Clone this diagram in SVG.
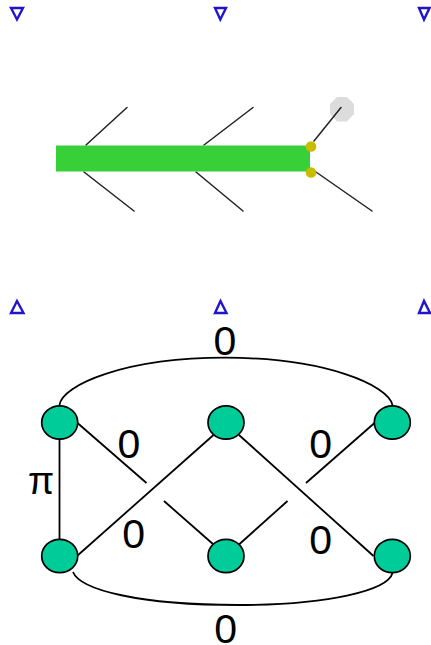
<svg xmlns="http://www.w3.org/2000/svg" width="431" height="645" viewBox="0 0 431 645">
<style>
.tri{fill:none;stroke:#2015cc;stroke-width:2.4}
.thin{fill:none;stroke:#222;stroke-width:1.5;stroke-linecap:round}
.edge{fill:none;stroke:#000;stroke-width:1.8}
.node{fill:#00cc99;stroke:#000;stroke-width:1.7}
.lbl{font-family:"Liberation Sans",Arial,sans-serif;font-size:41px;fill:#000;text-anchor:middle}
.pi{font-size:38px}
.dot{fill:#c8bc00}
</style>
<rect width="431" height="645" fill="#fff"/>
<g id="markers-top">
<polygon class="tri" points="11,8 23,8 17,19.500"/>
<polygon class="tri" points="215,8 226,8 220.300,19.500"/>
<polygon class="tri" points="419,8 429.500,8 424,19.500"/>
</g>
<g id="markers-bottom">
<polygon class="tri" points="11,313 23.500,313 17,301"/>
<polygon class="tri" points="215,313 226.500,313 220.500,301"/>
<polygon class="tri" points="419,313 430,313 424,301"/>
</g>
<g id="top-figure">
<polygon points="337,97 347,97 354,104 354,114 347,121.500 337,121.500 330,114 330,104" fill="#dcdcdc"/>
<g>
<line class="thin" x1="86" y1="145" x2="127" y2="107.500"/>
<line class="thin" x1="204" y1="145" x2="253" y2="107.500"/>
<line class="thin" x1="314" y1="141" x2="341" y2="107.500"/>
<line class="thin" x1="84" y1="172" x2="134" y2="211"/>
<line class="thin" x1="196" y1="172" x2="243" y2="211"/>
<line class="thin" x1="316" y1="172" x2="372" y2="211"/>
</g>
<rect x="56" y="145.500" width="254" height="26" fill="#38d038"/>
<circle class="dot" cx="311" cy="146.500" r="5.300"/>
<circle class="dot" cx="311" cy="172.500" r="5.300"/>
</g>
<g id="connectors">
<path class="edge" d="M59.500,405 C62,385 125,357.700 225,357.700 C325,357.700 388,385 392.500,405"/>
<path class="edge" d="M73,572 C80,590 140,605 238,605 C330,605 388,590 392.500,573"/>
<line class="edge" x1="59.500" y1="439" x2="59.500" y2="540"/>
<line class="edge" x1="77.500" y1="423" x2="146.500" y2="483"/>
<line class="edge" x1="164" y1="501" x2="213.500" y2="544.500"/>
<line class="edge" x1="77" y1="556" x2="213.500" y2="435"/>
<line class="edge" x1="239" y1="544.500" x2="287.500" y2="501"/>
<line class="edge" x1="239" y1="435" x2="373.500" y2="556"/>
<line class="edge" x1="306" y1="483" x2="374.500" y2="423"/>
</g>
<g id="n1"><ellipse class="node" cx="59.700" cy="422.500" rx="18" ry="16.700"/></g>
<g id="n2"><ellipse class="node" cx="226" cy="422.500" rx="18" ry="16.700"/></g>
<g id="n3"><ellipse class="node" cx="392.300" cy="422.500" rx="18" ry="16.700"/></g>
<g id="n4"><ellipse class="node" cx="59.700" cy="556" rx="18" ry="16.700"/></g>
<g id="n5"><ellipse class="node" cx="226" cy="556" rx="18" ry="16.700"/></g>
<g id="n6"><ellipse class="node" cx="392.300" cy="556" rx="18" ry="16.700"/></g>
<g id="labels">
<text class="lbl" x="225" y="355">0</text>
<text class="lbl" x="129" y="458">0</text>
<text class="lbl" x="320.700" y="458">0</text>
<text class="lbl" x="133.700" y="548">0</text>
<text class="lbl" x="320.700" y="554">0</text>
<text class="lbl" x="225.700" y="643">0</text>
<text class="lbl pi" x="41" y="494">π</text>
</g>
</svg>
